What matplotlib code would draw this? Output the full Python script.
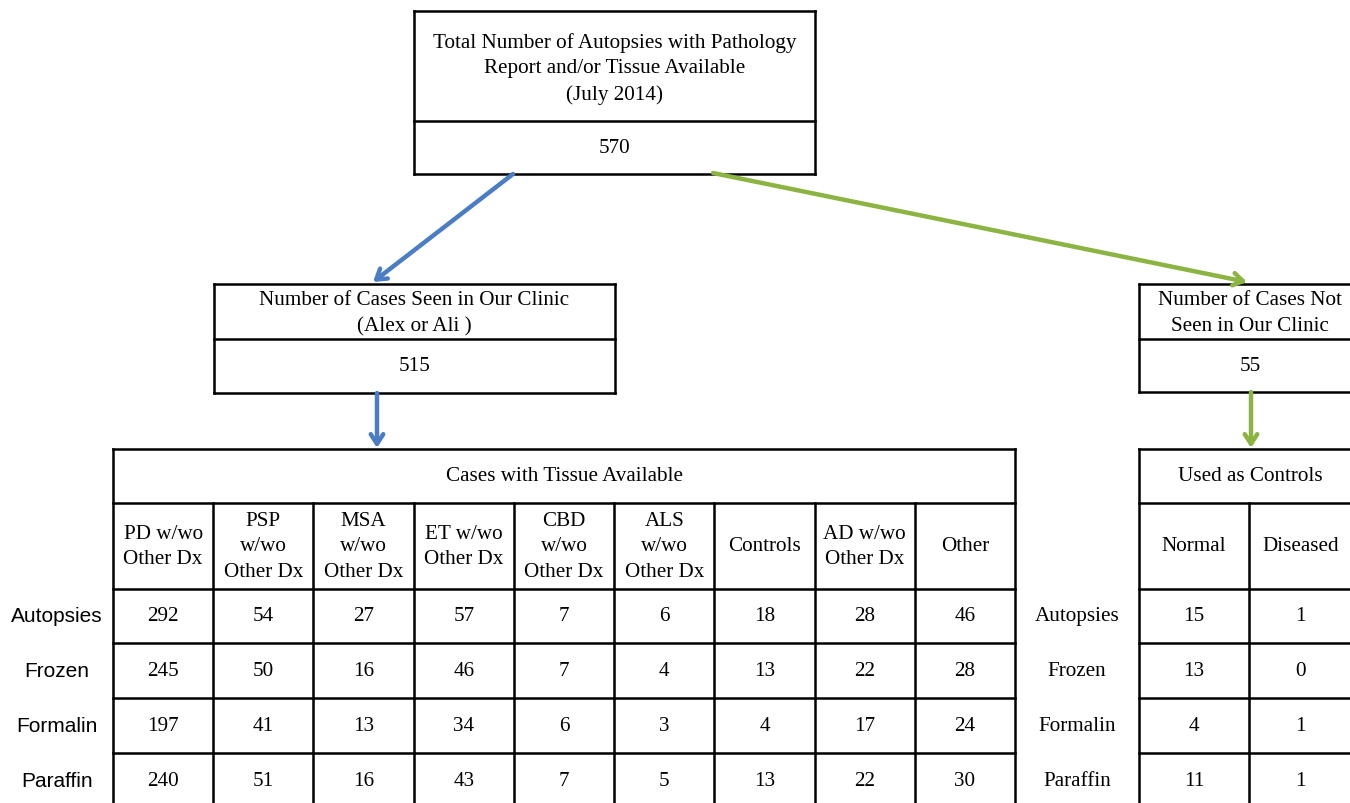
import matplotlib
matplotlib.use("Agg")
import matplotlib.pyplot as plt

# ---------------- data ----------------
top_title = "Total Number of Autopsies with Pathology\nReport and/or Tissue Available\n(July 2014)"
total_cases = 570
seen_title = "Number of Cases Seen in Our Clinic\n(Alex or Ali )"
seen_cases = 515
notseen_title = "Number of Cases Not\nSeen in Our Clinic"
notseen_cases = 55

tissue_title = "Cases with Tissue Available"
categories = ["PD w/wo\nOther Dx", "PSP\nw/wo\nOther Dx", "MSA\nw/wo\nOther Dx",
              "ET w/wo\nOther Dx", "CBD\nw/wo\nOther Dx", "ALS\nw/wo\nOther Dx",
              "Controls", "AD w/wo\nOther Dx", "Other"]
row_labels = ["Autopsies", "Frozen", "Formalin", "Paraffin"]
autopsies = [292, 54, 27, 57, 7, 6, 18, 28, 46]
frozen = [245, 50, 16, 46, 7, 4, 13, 22, 28]
formalin = [197, 41, 13, 34, 6, 3, 4, 17, 24]
paraffin = [240, 51, 16, 43, 7, 5, 13, 22, 30]

controls_title = "Used as Controls"
control_categories = ["Normal", "Diseased"]
ctrl_autopsies = [15, 1]
ctrl_frozen = [13, 0]
ctrl_formalin = [4, 1]
ctrl_paraffin = [11, 1]

# ---------------- layout ----------------
W, H = 1350, 804
fig = plt.figure(figsize=(W / 100, H / 100), dpi=100)
ax = fig.add_axes([0, 0, 1, 1])
ax.set_xlim(0, W)
ax.set_ylim(H, 0)
ax.axis("off")

SERIF = "Liberation Serif"
SANS = "Liberation Sans"
FS = 15.2
LSP = 1.48
LW = 1.8
BLUE = "#4A7DC4"
GREEN = "#8BB443"


def hline(x0, x1, y):
    ax.plot([x0, x1], [y, y], color="black", lw=LW, solid_capstyle="projecting", clip_on=True)


def vline(x, y0, y1):
    ax.plot([x, x], [y0, y1], color="black", lw=LW, solid_capstyle="projecting", clip_on=True)


def box(x0, x1, ys):
    for y in ys:
        hline(x0, x1, y)
    vline(x0, ys[0], ys[-1])
    vline(x1, ys[0], ys[-1])


def txt(x, y, s, family=SERIF, size=FS):
    ax.text(x, y, s, ha="center", va="center", family=family, fontsize=size,
            linespacing=LSP, color="black")


def arrow(p0, p1, color):
    ax.annotate("", xy=p1, xytext=p0,
                arrowprops=dict(arrowstyle="->,head_length=0.7,head_width=0.45",
                                color=color, lw=3.2, shrinkA=0, shrinkB=0))


# top box
tx0, tx1 = 414, 815
ty = [12, 122, 175]
box(tx0, tx1, ty)
txt((tx0 + tx1) / 2, (ty[0] + ty[1]) / 2 + 2, top_title)
txt((tx0 + tx1) / 2, (ty[1] + ty[2]) / 2, str(total_cases))

# seen box
sx0, sx1 = 214, 615
sy = [285, 340, 394]
box(sx0, sx1, sy)
txt((sx0 + sx1) / 2, (sy[0] + sy[1]) / 2 + 1, seen_title)
txt((sx0 + sx1) / 2, (sy[1] + sy[2]) / 2, str(seen_cases))

# not-seen box
nx0, nx1 = 1139, 1362
box(nx0, nx1, sy[:2] + [393])
txt(1250, (sy[0] + sy[1]) / 2 + 1, notseen_title)
txt(1250, (sy[1] + 393) / 2, str(notseen_cases))

# arrows
arrow((513, 175), (373, 283), BLUE)
arrow((713, 174), (1247, 283), GREEN)
arrow((377, 394), (377, 449), BLUE)
arrow((1251, 393), (1251, 449), GREEN)

# main table
lx0, lx1 = 113, 1015
ncol = len(categories)
col_w = (lx1 - lx0) / ncol
col_edges = [lx0 + i * col_w for i in range(ncol + 1)]
row_edges = [450, 504, 590, 644, 699, 754, 809]
for y in row_edges:
    hline(col_edges[0], col_edges[-1], y)
for i, x in enumerate(col_edges):
    top = row_edges[0] if i in (0, ncol) else row_edges[1]
    vline(x, top, row_edges[-1])
txt((col_edges[0] + col_edges[-1]) / 2, (row_edges[0] + row_edges[1]) / 2, tissue_title)
for i, c in enumerate(categories):
    txt((col_edges[i] + col_edges[i + 1]) / 2, (row_edges[1] + row_edges[2]) / 2, c)
table_rows = [autopsies, frozen, formalin, paraffin]
for r, (lab, vals) in enumerate(zip(row_labels, table_rows)):
    yc = (row_edges[r + 2] + row_edges[r + 3]) / 2
    txt(57, yc, lab, family=SANS, size=15)
    for i, v in enumerate(vals):
        txt((col_edges[i] + col_edges[i + 1]) / 2, yc, str(v))

# controls table
cx = [1139, 1249, 1362]
for y in row_edges:
    hline(cx[0], cx[-1], y)
vline(cx[0], row_edges[0], row_edges[-1])
vline(cx[1], row_edges[1], row_edges[-1])
vline(cx[2], row_edges[0], row_edges[-1])
txt(1250, (row_edges[0] + row_edges[1]) / 2, controls_title)
for i, c in enumerate(control_categories):
    txt((cx[i] + cx[i + 1]) / 2 - (0 if i == 0 else 5), (row_edges[1] + row_edges[2]) / 2, c)
ctrl_rows = [ctrl_autopsies, ctrl_frozen, ctrl_formalin, ctrl_paraffin]
for r, (lab, vals) in enumerate(zip(row_labels, ctrl_rows)):
    yc = (row_edges[r + 2] + row_edges[r + 3]) / 2
    txt(1077, yc, lab)
    for i, v in enumerate(vals):
        txt((cx[i] + cx[i + 1]) / 2 - (0 if i == 0 else 5), yc, str(v))

fig.savefig("out.png", dpi=100)
